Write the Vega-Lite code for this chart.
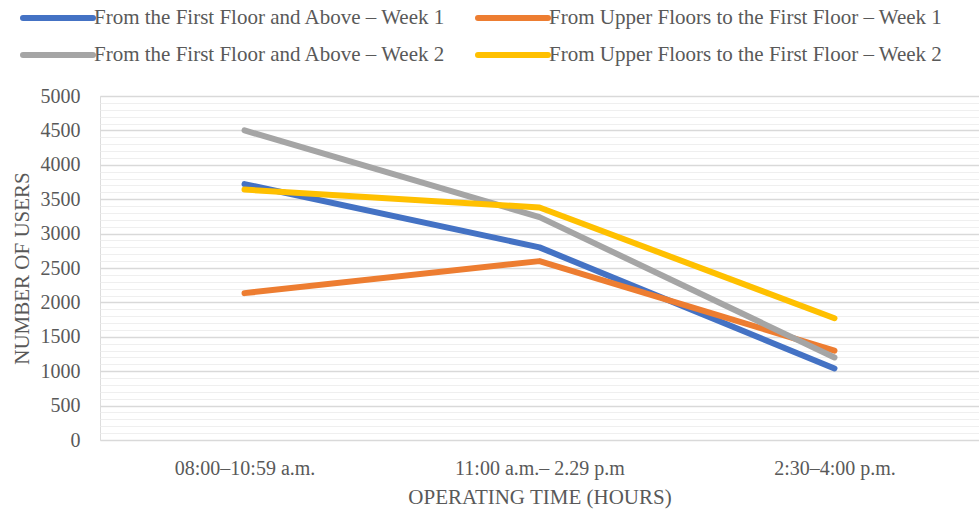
{
  "$schema": "https://vega.github.io/schema/vega-lite/v6.json",
  "width": 879,
  "height": 344,
  "autosize": {"type": "none"},
  "padding": {"left": 100, "top": 96, "right": 0, "bottom": 70},
  "background": "white",
  "data": {
    "values": [
      {"time": "08:00–10:59 a.m.", "series": "From the First Floor and Above – Week 1", "users": 3720},
      {"time": "11:00 a.m.– 2.29 p.m", "series": "From the First Floor and Above – Week 1", "users": 2800},
      {"time": "2:30–4:00 p.m.", "series": "From the First Floor and Above – Week 1", "users": 1040},
      {"time": "08:00–10:59 a.m.", "series": "From Upper Floors to the First Floor – Week 1", "users": 2135},
      {"time": "11:00 a.m.– 2.29 p.m", "series": "From Upper Floors to the First Floor – Week 1", "users": 2600},
      {"time": "2:30–4:00 p.m.", "series": "From Upper Floors to the First Floor – Week 1", "users": 1300},
      {"time": "08:00–10:59 a.m.", "series": "From the First Floor and Above – Week 2", "users": 4500},
      {"time": "11:00 a.m.– 2.29 p.m", "series": "From the First Floor and Above – Week 2", "users": 3240},
      {"time": "2:30–4:00 p.m.", "series": "From the First Floor and Above – Week 2", "users": 1200},
      {"time": "08:00–10:59 a.m.", "series": "From Upper Floors to the First Floor – Week 2", "users": 3640},
      {"time": "11:00 a.m.– 2.29 p.m", "series": "From Upper Floors to the First Floor – Week 2", "users": 3380},
      {"time": "2:30–4:00 p.m.", "series": "From Upper Floors to the First Floor – Week 2", "users": 1770}
    ]
  },
  "mark": {"type": "line", "strokeWidth": 6, "strokeCap": "round", "strokeJoin": "round"},
  "encoding": {
    "x": {
      "field": "time",
      "type": "nominal",
      "sort": ["08:00–10:59 a.m.", "11:00 a.m.– 2.29 p.m", "2:30–4:00 p.m."],
      "scale": {"type": "point", "padding": 0.49},
      "axis": {
        "title": "OPERATING TIME (HOURS)",
        "labelAngle": 0,
        "ticks": false,
        "domain": false,
        "grid": false,
        "labelPadding": 18,
        "titlePadding": 8,
        "labelFont": "Liberation Serif",
        "labelFontSize": 20,
        "labelColor": "#595959",
        "titleFont": "Liberation Serif",
        "titleFontSize": 21,
        "titleFontWeight": "normal",
        "titleColor": "#595959"
      }
    },
    "y": {
      "field": "users",
      "type": "quantitative",
      "scale": {"domain": [0, 5000], "nice": false},
      "axis": {
        "title": "NUMBER OF USERS",
        "values": [0,100,200,300,400,500,600,700,800,900,1000,1100,1200,1300,1400,1500,1600,1700,1800,1900,2000,2100,2200,2300,2400,2500,2600,2700,2800,2900,3000,3100,3200,3300,3400,3500,3600,3700,3800,3900,4000,4100,4200,4300,4400,4500,4600,4700,4800,4900,5000],
        "labelExpr": "datum.value % 500 === 0 ? format(datum.value, 'd') : ''",
        "ticks": false,
        "domain": false,
        "grid": true,
        "gridColor": {"condition": {"test": "datum.value % 500 === 0", "value": "#d9d9d9"}, "value": "#efefef"},
        "gridWidth": {"condition": {"test": "datum.value % 500 === 0", "value": 1.6}, "value": 1.2},
        "labelPadding": 20,
        "titlePadding": 8,
        "labelFont": "Liberation Serif",
        "labelFontSize": 20,
        "labelColor": "#595959",
        "titleFont": "Liberation Serif",
        "titleFontSize": 21,
        "titleFontWeight": "normal",
        "titleColor": "#595959"
      }
    },
    "color": {
      "field": "series",
      "type": "nominal",
      "sort": ["From the First Floor and Above – Week 1", "From Upper Floors to the First Floor – Week 1", "From the First Floor and Above – Week 2", "From Upper Floors to the First Floor – Week 2"],
      "scale": {
        "domain": ["From the First Floor and Above – Week 1", "From Upper Floors to the First Floor – Week 1", "From the First Floor and Above – Week 2", "From Upper Floors to the First Floor – Week 2"],
        "range": ["#4472C4", "#ED7D31", "#A5A5A5", "#FFC000"]
      },
      "legend": {
        "title": null,
        "orient": "none",
        "legendX": -54,
        "legendY": -90,
        "direction": "horizontal",
        "columns": 2,
        "columnPadding": 20,
        "rowPadding": 13,
        "padding": 0,
        "symbolType": "M-4,0H4",
        "symbolSize": 306.25,
        "symbolStrokeWidth": 6,
        "labelOffset": 24,
        "labelLimit": 600,
        "labelFont": "Liberation Serif",
        "labelFontSize": 21,
        "labelColor": "#595959",
        "encode": {"symbols": {"update": {"strokeCap": {"value": "round"}}}}
      }
    }
  }
}
